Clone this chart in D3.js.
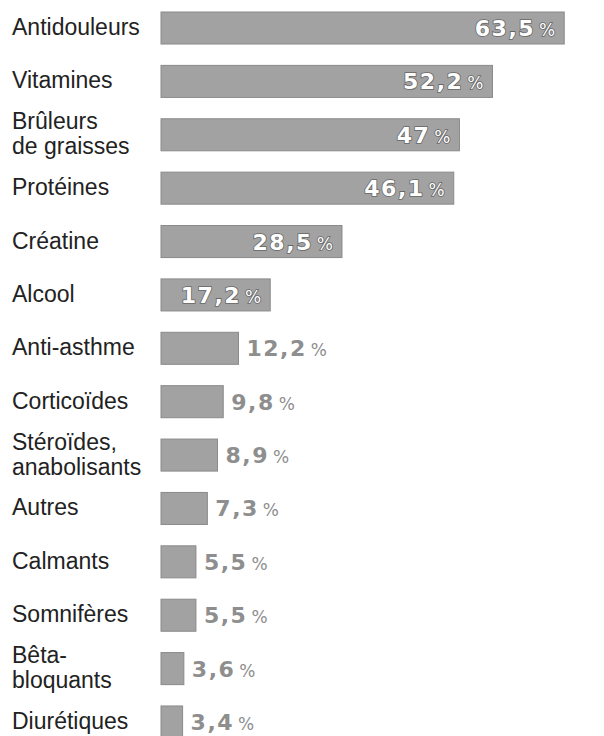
<!DOCTYPE html>
<html lang="fr">
<head>
  <meta charset="UTF-8">
  <style type="text/css">
    body {margin:0; background:#fff;}
    .cat {font-family: "Liberation Sans Narrow", "Liberation Sans", sans-serif; font-size: 23px; fill: #222;}
    .val {font-family: "DejaVu Sans", sans-serif; font-weight: bold; font-size: 22px; letter-spacing: 1.5px;}
    .pct {font-family: "DejaVu Sans", sans-serif; font-weight: normal; font-size: 17px;}
  </style>
  <title>Produits</title>
</head>
<body>
  <svg id="chart" width="604" height="736"></svg>

  <script src="https://d3js.org/d3.v7.min.js"></script>
  <script type="text/javascript">
    // categories (line breaks as in the original)
    var categories = ["Antidouleurs", "Vitamines", "Brûleurs\nde graisses", "Protéines", "Créatine",
                      "Alcool", "Anti-asthme", "Corticoïdes", "Stéroïdes,\nanabolisants", "Autres",
                      "Calmants", "Somnifères", "Bêta-\nbloquants", "Diurétiques"];
    var values = [63.5, 52.2, 47, 46.1, 28.5, 17.2, 12.2, 9.8, 8.9, 7.3, 5.5, 5.5, 3.6, 3.4];
    var valueLabels = ["63,5", "52,2", "47", "46,1", "28,5", "17,2", "12,2", "9,8", "8,9", "7,3", "5,5", "5,5", "3,6", "3,4"];

    var data = categories.map(function(c, i) {
      return {cat: c, value: values[i], label: valueLabels[i]};
    });

    var svg = d3.select("#chart");

    var y = d3.scaleBand().domain(categories).range([12, 738]).paddingInner(0.4).paddingOuter(0);
    var x = d3.scaleLinear().domain([0, 100]).range([161, 796]);

    var rows = svg.selectAll(".row")
      .data(data)
      .enter().append("g")
      .attr("class", "row");

    // bars
    rows.append("rect")
      .attr("x", x(0))
      .attr("y", d => y(d.cat))
      .attr("width", d => x(d.value) - x(0))
      .attr("height", y.bandwidth())
      .style("fill", "#a2a2a2")
      .style("stroke", "#8a8a8a")
      .style("stroke-width", 1);

    // category labels
    rows.append("text")
      .attr("class", "cat")
      .each(function(d) {
        var lines = d.cat.split("\n");
        var cy = y(d.cat) + y.bandwidth() / 2;
        var lh = 25;
        var first = cy + 7 - (lines.length - 1) * lh / 2;
        var t = d3.select(this);
        lines.forEach(function(l, k) {
          t.append("tspan").attr("x", 12).attr("y", first + k * lh).text(l);
        });
      });

    // value labels: inside the bar for big values, after it for small ones
    var inside = d => d.value > 15;
    var vt = rows.append("text")
      .attr("y", d => y(d.cat) + y.bandwidth() / 2 + 8)
      .attr("x", d => inside(d) ? x(d.value) - 9 : x(d.value) + 8)
      .style("text-anchor", d => inside(d) ? "end" : "start")
      .style("fill", d => inside(d) ? "#fff" : "#8e8e8e")
      .style("stroke", d => inside(d) ? "#666" : "none")
      .style("stroke-width", 1.6)
      .style("paint-order", "stroke");

    vt.append("tspan").attr("class", "val").text(d => d.label);
    vt.append("tspan").attr("class", "pct").attr("dx", 4).text("%");
  </script>
</body>
</html>
